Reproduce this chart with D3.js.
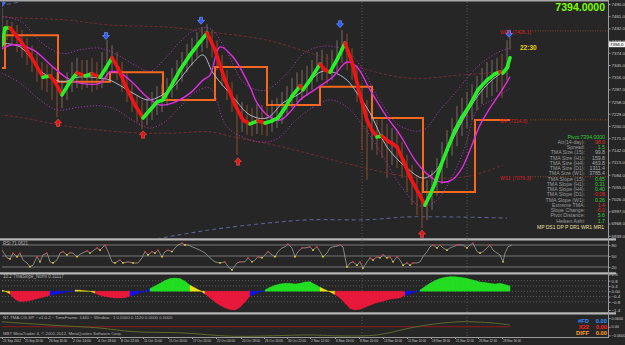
<!DOCTYPE html>
<html>
<head>
<meta charset="utf-8">
<script src="https://cdn.jsdelivr.net/npm/d3@7"></script>
<style>
body { margin: 0; background: #262626; }
svg { display: block; font-family: "Liberation Sans", Arial, sans-serif; }
</style>
</head>
<body>
<svg width="625" height="345"></svg>
<script>
// ---- data (bar = chart position unit) ----
const timeLabels = ["21 Sep 2012", "25 Sep 20:00", "28 Sep 16:00", "2 Oct 14:00", "4 Oct 18:00", "8 Oct 22:00",
  "11 Oct 11:00", "15 Oct 16:00", "17 Oct 20:00", "22 Oct 00:00", "24 Oct 18:00", "26 Oct 16:00", "30 Oct 22:00",
  "2 Nov 12:00", "6 Nov 16:00", "8 Nov 20:00", "13 Nov 10:00", "15 Nov 14:00", "19 Nov 18:00", "21 Nov 22:00",
  "26 Nov 12:00", "28 Nov 16:00"];
const timeTickBars = [2, 24, 48, 72, 97, 120, 143, 168, 192, 216, 241, 264, 287, 310, 335, 359, 383, 407, 431, 455, 478, 502];
const priceTicks = [7490, 7461, 7432, 7403, 7374, 7345, 7316, 7287, 7258, 7229, 7200, 7171, 7142, 7113, 7084, 7055, 7026, 6997, 6968, 6939];
const lastPrice = 7394.0;

// [bar, high, low]
const candles = [
  [2,7480,7381],[7,7452,7404],[12,7447,7392],[17,7440,7376],[22,7428,7362],[27,7409,7345],[32,7392,7328],
  [37,7376,7305],[42,7352,7286],[47,7347,7281],[52,7343,7262],[57,7328,7221],[62,7309,7243],[67,7328,7262],
  [72,7352,7281],[77,7362,7290],[82,7357,7286],[87,7357,7290],[92,7362,7281],[97,7352,7286],[102,7376,7290],
  [107,7404,7314],[112,7392,7328],[117,7376,7309],[122,7352,7281],[127,7328,7257],[132,7300,7233],[137,7274,7210],
  [142,7262,7193],[147,7267,7202],[152,7281,7214],[157,7295,7226],[162,7300,7233],[167,7314,7248],[172,7338,7267],
  [177,7357,7286],[182,7376,7305],[187,7395,7328],[192,7409,7343],[197,7423,7362],[202,7435,7376],[207,7442,7385],
  [212,7428,7362],[217,7404,7333],[222,7369,7295],[227,7333,7262],[232,7305,7233],[237,7274,7131],[242,7257,7186],
  [247,7250,7179],[252,7243,7176],[257,7252,7181],[262,7250,7179],[267,7252,7176],[272,7262,7186],[277,7267,7195],
  [282,7281,7205],[287,7295,7224],[292,7314,7243],[297,7328,7257],[302,7333,7262],[307,7343,7271],[312,7357,7286],
  [317,7376,7305],[322,7381,7309],[327,7371,7300],[332,7381,7309],[337,7404,7328],[342,7428,7352],[347,7419,7333],
  [352,7385,7309],[357,7345,7257],[362,7297,7143],[367,7262,7072],[372,7233,7143],[377,7214,7131],[382,7219,7124],
  [387,7205,7076],[392,7195,7107],[397,7186,7100],[402,7162,7076],[407,7131,7043],[412,7107,7012],[417,7083,6988],
  [422,7067,6957],[427,7071,6976],[432,7095,7000],[437,7124,7034],[442,7162,7062],[447,7190,7100],[452,7219,7129],
  [457,7248,7152],[462,7267,7176],[467,7281,7195],[472,7300,7214],[477,7319,7238],[482,7338,7252],[487,7352,7267],
  [492,7357,7271],[497,7362,7281],[502,7371,7267],[507,7404,7309],[510,7412,7381]
];

const fastTma = [[2,7392],[5,7433],[10,7433],[20,7404],[30,7369],[43,7316],[50,7319],[55,7305],[62,7274],[70,7305],
  [77,7326],[85,7319],[92,7324],[100,7316],[106,7338],[112,7362],[118,7338],[125,7298],[135,7250],[143,7219],[150,7238],
  [157,7257],[163,7262],[170,7290],[180,7333],[190,7369],[200,7400],[207,7421],[215,7381],[225,7309],[235,7250],
  [243,7214],[250,7205],[258,7212],[265,7207],[272,7212],[278,7219],[285,7243],[292,7271],[300,7295],[303,7286],
  [310,7309],[320,7347],[325,7333],[330,7328],[338,7362],[345,7397],[352,7352],[360,7274],[367,7214],[372,7190],
  [377,7174],[382,7176],[388,7164],[393,7157],[397,7150],[403,7119],[410,7079],[418,7043],[425,7012],[430,7036],
  [435,7064],[441,7107],[447,7143],[455,7190],[462,7221],[470,7250],[478,7286],[487,7309],[495,7324],[500,7328],
  [503,7326],[507,7338],[510,7362]];

const midTma = [[0,7397],[20,7388],[43,7326],[63,7305],[77,7316],[100,7314],[110,7309],[133,7278],[147,7262],[157,7267],
  [173,7293],[193,7350],[203,7369],[213,7326],[233,7269],[250,7226],[267,7219],[283,7255],[300,7278],[320,7328],
  [333,7328],[347,7309],[357,7278],[370,7231],[387,7150],[407,7100],[423,7076],[435,7091],[447,7143],[460,7202],
  [477,7269],[490,7305],[500,7324],[510,7343]];

const slowTma = [[0,7381],[13,7393],[33,7381],[53,7340],[67,7314],[80,7302],[100,7302],[110,7328],[120,7326],[133,7302],
  [147,7269],[160,7250],[173,7255],[190,7278],[203,7309],[210,7321],[220,7388],[233,7364],[250,7293],[257,7255],
  [270,7221],[280,7214],[290,7233],[300,7262],[317,7290],[333,7317],[347,7352],[357,7340],[370,7286],[387,7221],
  [400,7179],[415,7119],[428,7084],[440,7067],[452,7072],[462,7100],[470,7143],[480,7202],[490,7243],[500,7278],[510,7317]];

const upperBand = [[0,7460],[20,7450],[43,7395],[63,7372],[80,7381],[100,7385],[115,7372],[135,7345],[150,7330],[165,7360],
  [180,7400],[195,7428],[210,7432],[225,7385],[245,7300],[265,7285],[285,7320],[305,7375],[325,7390],[345,7380],
  [360,7345],[380,7260],[400,7200],[423,7190],[440,7238],[455,7278],[477,7340],[497,7374],[510,7385]];
const lowerBand = [[0,7328],[20,7302],[40,7262],[57,7238],[80,7245],[100,7248],[115,7240],[135,7210],[150,7195],[165,7210],
  [180,7245],[195,7280],[210,7290],[227,7198],[250,7167],[267,7162],[280,7174],[293,7207],[310,7240],[330,7262],
  [347,7245],[360,7210],[380,7140],[400,7060],[420,7010],[435,7020],[450,7070],[465,7150],[477,7238],[495,7265],[510,7290]];

const outerUpper = [[0,7461],[20,7457],[67,7452],[110,7440],[167,7435],[210,7423],[267,7404],[333,7357],[407,7314],[460,7321],[500,7328]];
const outerLower = [[0,7226],[20,7221],[60,7202],[100,7190],[143,7183],[173,7183],[210,7186],[233,7174],[283,7150],
  [333,7119],[387,7088],[410,7079],[440,7076],[470,7081],[503,7107]];
const farUpper = [[0,7486],[20,7495],[35,7502]];
const farLower = [[150,6929],[210,6953],[267,6969],[310,6977],[367,6977],[410,6984],[507,6981]];

// weekly pivot steps [start bar, level]
const weeklyPivot = [[2,7338],[5,7416],[58,7305],[110,7328],[163,7262],[215,7340],[267,7250],[320,7293],[372,7219],[423,7043],[475,7214]];
const weeklyEndBar = 510;

const topArrows = [[2,7492],[106,7414],[201,7450],[340,7442],[509,7419]];
const bottomArrows = [[58,7207],[143,7179],[238,7115],[422,6943]];

const pivotNames = ["WR1", "MP", "WS1"];
const pivotPrices = [7426.1, 7214.6, 7079.3];

const rsi = [[0,75],[3,62],[7,45],[10,42],[13,58],[17,48],[20,58],[23,39],[27,31],[30,21],[33,25],[37,48],[40,34],[43,53],
  [47,58],[50,34],[53,31],[57,39],[60,58],[63,62],[67,53],[70,59],[73,58],[77,48],[80,55],[83,59],[87,64],[90,58],[93,64],
  [97,72],[100,66],[105,80],[108,62],[112,34],[115,31],[120,39],[123,31],[128,34],[133,31],[138,31],[142,45],[145,62],
  [148,53],[152,62],[155,58],[158,66],[162,48],[165,62],[168,66],[172,62],[175,72],[178,80],[182,85],[185,80],[188,80],
  [192,75],[195,72],[200,66],[205,58],[210,45],[215,34],[220,31],[225,34],[228,21],[232,12],[237,31],[240,34],[245,34],
  [248,45],[252,34],[255,39],[258,48],[262,45],[265,53],[268,62],[272,53],[275,48],[278,62],[282,72],[285,75],[288,83],
  [292,72],[295,48],[298,62],[302,72],[305,72],[310,75],[313,66],[317,75],[320,62],[323,48],[327,58],[330,72],[333,75],
  [337,77],[340,80],[343,75],[347,20],[350,31],[353,34],[357,25],[360,34],[363,17],[367,34],[370,45],[373,39],[377,48],
  [380,45],[383,53],[387,45],[390,48],[393,34],[397,48],[400,39],[403,25],[407,31],[410,25],[413,31],[417,31],[420,34],
  [423,48],[427,62],[430,75],[433,80],[437,72],[440,80],[443,72],[447,66],[450,72],[453,75],[457,80],[460,80],[463,80],
  [467,72],[470,80],[473,85],[477,62],[480,58],[483,62],[487,72],[490,80],[493,66],[497,58],[500,53],[503,34],[505,58],
  [508,75],[512,80]];
const rsiLevels = [80, 50, 20];

const tmaSlope = [[0,0.15],[5,0.0],[10,-0.2],[15,-0.6],[20,-0.78],[25,-0.75],[30,-0.7],[35,-0.6],[40,-0.5],[45,-0.42],
  [50,-0.3],[55,-0.22],[60,-0.15],[65,-0.08],[70,0.0],[75,0.1],[80,0.08],[85,0.03],[90,0.0],[95,-0.15],[100,-0.3],
  [105,-0.4],[110,-0.45],[115,-0.5],[120,-0.5],[125,-0.48],[130,-0.35],[135,-0.25],[140,-0.12],[145,0.0],[150,0.2],
  [155,0.4],[160,0.6],[165,0.8],[170,0.95],[175,1.0],[180,0.95],[185,0.75],[190,0.45],[195,0.25],[200,0.05],[205,-0.2],
  [210,-0.5],[215,-0.8],[220,-1.05],[225,-1.25],[230,-1.38],[235,-1.41],[240,-1.2],[245,-0.8],[250,-0.35],[255,-0.2],
  [260,-0.05],[265,0.1],[270,0.3],[275,0.45],[280,0.55],[285,0.6],[290,0.6],[295,0.55],[300,0.6],[305,0.7],[310,0.72],
  [315,0.5],[320,0.3],[325,0.12],[330,-0.05],[335,-0.25],[340,-0.5],[345,-0.9],[350,-1.3],[355,-1.41],[360,-1.35],
  [365,-1.2],[370,-1.05],[375,-0.9],[380,-0.8],[385,-0.7],[390,-0.6],[395,-0.55],[400,-0.5],[405,-0.3],[410,-0.2],
  [415,-0.05],[420,0.1],[425,0.35],[430,0.6],[435,0.8],[440,0.95],[445,1.05],[450,1.1],[455,1.1],[460,1.05],[465,1.0],
  [470,0.9],[475,0.8],[480,0.7],[485,0.65],[490,0.6],[495,0.55],[500,0.6],[505,0.5],[510,0.4]];
const slopeTicks = [0.8, 0.4, 0, -0.4, -0.8];

const cgLine = [[0,0.035],[50,0.012],[100,-0.009],[133,-0.034],[183,-0.043],[233,-0.066],[310,-0.057],[343,-0.064],
  [377,-0.057],[410,-0.009],[427,0.012],[460,0.035],[493,0.026],[510,0.012]];
const cgSignal = [[2,0],[510,0]];

const infoLabels = ["Atr(14-day):", "Spread:", "TMA Size (15):", "TMA Size (H1):", "TMA Size (H4):", "TMA Size (D1):",
  "TMA Size (W1):", "TMA Slope (15):", "TMA Slope (H1):", "TMA Slope (H4):", "TMA Slope (D1):", "TMA Slope (W1):",
  "Extreme TMA:", "Slope Change:", "Pivot Distance:", "Heiken Ashi:"];
const infoValues = ["98.0", "1.5", "99.8", "159.8", "463.8", "1311.4", "3785.4", "0.65", "0.31", "0.40", "-0.08", "0.26",
  "1.4", "-6.0", "5.6", "1.7"];
const infoState = ["bad", "good", "info", "info", "info", "info", "info", "good", "good", "good", "bad", "good",
  "bad", "bad", "good", "good"];
const legendNames = ["#FD", "X22", "DIFF"];
const legendValues = ["0.00", "0.00", "0.00"];

// ---- drawing ----
const svg = d3.select("svg");
const attr_area = { width: 625, height: 345, left: 2, right: 608 };
const panes = {
  main: { top: 1.5, bottom: 238 },
  rsi: { top: 241, bottom: 272 },
  slope: { top: 275, bottom: 312 },
  cg: { top: 315, bottom: 337 }
};

const bx = d3.scaleLinear().domain([0, 610]).range([0, 610]);
const py = d3.scaleLinear().domain([6937, 7490]).range([236.6, 4]);
const ry = d3.scaleLinear().domain([20, 80]).range([267, 245]);
const sy = d3.scaleLinear().domain([-1.41, 1.26]).range([310, 274.5]);
const cy = d3.scaleLinear().domain([-0.0677, 0.0677]).range([336.5, 317]);

svg.append("rect").attr("width", attr_area.width).attr("height", attr_area.height).attr("fill", "#262626");

const defs = svg.append("defs");
for (const [name, p] of Object.entries(panes)) {
  defs.append("clipPath").attr("id", "clip-" + name)
    .append("rect").attr("x", attr_area.left).attr("y", p.top)
    .attr("width", attr_area.right - attr_area.left).attr("height", p.bottom - p.top);
}

// separators & frame
svg.append("rect").attr("x", 0).attr("y", 0).attr("width", attr_area.right).attr("height", 1.5).attr("fill", "#a8a8a8");
[238.3, 272.3, 312.3].forEach(y => {
  svg.append("rect").attr("x", 0).attr("y", y).attr("width", attr_area.right + 8).attr("height", 2.2).attr("fill", "#b8b8b8");
});
svg.append("line").attr("x1", attr_area.right + 0.5).attr("x2", attr_area.right + 0.5).attr("y1", 0).attr("y2", 338)
  .attr("stroke", "#9a9a9a");
svg.append("line").attr("x1", 0).attr("x2", attr_area.right).attr("y1", 337.5).attr("y2", 337.5).attr("stroke", "#9a9a9a");

// vertical period separators
[362, 467].forEach(b => {
  svg.append("line").attr("x1", bx(b)).attr("x2", bx(b)).attr("y1", 2).attr("y2", 337)
    .attr("stroke", "#6a6a6a").attr("stroke-width", 0.7).attr("stroke-dasharray", "1,2");
});

function drawMain() {
  const g = svg.append("g").attr("clip-path", "url(#clip-main)");
  const smooth = d3.line().x(d => bx(d[0])).y(d => py(d[1])).curve(d3.curveCatmullRom);

  g.append("path").attr("d", smooth(outerUpper)).attr("fill", "none")
    .attr("stroke", "#7a2e2e").attr("stroke-width", 0.9).attr("stroke-dasharray", "3,2");
  g.append("path").attr("d", smooth(outerLower)).attr("fill", "none")
    .attr("stroke", "#7a2e2e").attr("stroke-width", 0.9).attr("stroke-dasharray", "3,2");
  g.append("path").attr("d", smooth(farUpper)).attr("fill", "none")
    .attr("stroke", "#56648f").attr("stroke-width", 1).attr("stroke-dasharray", "4,3");
  g.append("path").attr("d", smooth(farLower)).attr("fill", "none")
    .attr("stroke", "#56648f").attr("stroke-width", 1.1).attr("stroke-dasharray", "4,3");

  // price bars
  g.selectAll(".bar").data(candles).enter().append("line")
    .attr("x1", d => bx(d[0])).attr("x2", d => bx(d[0]))
    .attr("y1", d => py(d[1])).attr("y2", d => py(d[2]))
    .attr("stroke", (d, i) => {
      const prev = candles[Math.max(0, i - 1)];
      return (d[1] + d[2]) >= (prev[1] + prev[2]) ? "#6a5a52" : "#74462e";
    })
    .attr("stroke-width", 1.3);

  // weekly pivot steps
  const steps = weeklyPivot.concat([[weeklyEndBar, weeklyPivot[weeklyPivot.length - 1][1]]]);
  g.append("path")
    .attr("d", d3.line().x(d => bx(d[0])).y(d => py(d[1])).curve(d3.curveStepAfter)(steps))
    .attr("fill", "none").attr("stroke", "#f5691e").attr("stroke-width", 2);

  // bands
  g.append("path").attr("d", smooth(upperBand)).attr("fill", "none")
    .attr("stroke", "#c03cc8").attr("stroke-width", 0.9).attr("stroke-dasharray", "1,2");
  g.append("path").attr("d", smooth(lowerBand)).attr("fill", "none")
    .attr("stroke", "#c03cc8").attr("stroke-width", 0.9).attr("stroke-dasharray", "1,2");

  g.append("path").attr("d", smooth(midTma)).attr("fill", "none")
    .attr("stroke", "#aeb6c0").attr("stroke-width", 1);
  g.append("path").attr("d", smooth(slowTma)).attr("fill", "none")
    .attr("stroke", "#e02ce0").attr("stroke-width", 1.4);

  // fast TMA, green when rising and red when falling
  const segs = d3.pairs(fastTma);
  g.selectAll(".seg").data(segs).enter().append("line")
    .attr("x1", d => bx(d[0][0])).attr("y1", d => py(d[0][1]))
    .attr("x2", d => bx(d[1][0])).attr("y2", d => py(d[1][1]))
    .attr("stroke", d => d[1][1] >= d[0][1] ? "#25f025" : "#f01414")
    .attr("stroke-width", 3.6).attr("stroke-linecap", "round");

  // swing arrows
  g.selectAll(".top").data(topArrows).enter().append("path")
    .attr("transform", d => `translate(${bx(d[0])},${py(d[1])})`)
    .attr("d", "M-1.5,-3.5 h3 v3 h2 l-3.5,4 l-3.5,-4 h2 z")
    .attr("fill", "#2f5cff").attr("stroke", "#8fb0ff").attr("stroke-width", 0.5);
  g.selectAll(".bot").data(bottomArrows).enter().append("path")
    .attr("transform", d => `translate(${bx(d[0])},${py(d[1])})`)
    .attr("d", "M0,-4 l3.5,4 h-2 v3.5 h-3 v-3.5 h-2 z")
    .attr("fill", "#e01818").attr("stroke", "#ff6060").attr("stroke-width", 0.5);

  // pivot levels
  pivotPrices.forEach((p, i) => {
    g.append("line").attr("x1", 530).attr("x2", attr_area.right).attr("y1", py(p)).attr("y2", py(p))
      .attr("stroke", "#a0522d").attr("stroke-width", 0.8).attr("stroke-dasharray", "1,1.5");
    g.append("text").attr("x", 500).attr("y", py(p) + 3).attr("font-size", 5).attr("fill", "#d82020")
      .text(`${pivotNames[i]} (${p.toFixed(1)})`);
  });

  svg.append("text").attr("x", 520).attr("y", 49.5).attr("font-size", 6.5).attr("font-weight", "bold")
    .attr("fill", "#f0d000").text("22:30");
  svg.append("text").attr("x", 605).attr("y", 11).attr("text-anchor", "end").attr("font-size", 10.5)
    .attr("font-weight", "bold").attr("fill", "#7cfc00").text(lastPrice.toFixed(4));

  // info panel
  svg.append("text").attr("x", 605).attr("y", 138.5).attr("text-anchor", "end").attr("font-size", 5.2)
    .attr("fill", "#32cd32").text("Pivot:" + lastPrice.toFixed(4));
  const stateColor = { good: "#32cd32", bad: "#e02828", info: "#a8a8a8" };
  infoLabels.forEach((t, i) => {
    const y = 143.8 + i * 5.25;
    svg.append("text").attr("x", 585).attr("y", y).attr("text-anchor", "end").attr("font-size", 5.2)
      .attr("fill", "#9a9a9a").text(t);
    svg.append("text").attr("x", 605).attr("y", y).attr("text-anchor", "end").attr("font-size", 5.2)
      .attr("fill", stateColor[infoState[i]]).text(infoValues[i]);
  });
  svg.append("text").attr("x", 537).attr("y", 229).attr("font-size", 5.4)
    .attr("textLength", 67).attr("lengthAdjust", "spacingAndGlyphs")
    .attr("fill", "#e8e0a0").text("MP DS1 DP P DR1 WR1 MR1");
}

function drawRsi() {
  const g = svg.append("g").attr("clip-path", "url(#clip-rsi)");
  rsiLevels.forEach(v => {
    g.append("line").attr("x1", attr_area.left).attr("x2", attr_area.right).attr("y1", ry(v)).attr("y2", ry(v))
      .attr("stroke", "#8a8a8a").attr("stroke-width", 0.8);
  });
  g.append("path").attr("d", d3.line().x(d => bx(d[0])).y(d => ry(d[1]))(rsi))
    .attr("fill", "none").attr("stroke", "#a09a94").attr("stroke-width", 0.8);
  const peaks = rsi.filter((d, i) => i > 0 && i < rsi.length - 1 && d[1] > rsi[i - 1][1] && d[1] >= rsi[i + 1][1]);
  const troughs = rsi.filter((d, i) => i > 0 && i < rsi.length - 1 && d[1] < rsi[i - 1][1] && d[1] <= rsi[i + 1][1]);
  g.selectAll(".pk").data(peaks).enter().append("circle")
    .attr("cx", d => bx(d[0])).attr("cy", d => ry(d[1])).attr("r", 0.9).attr("fill", "#e03030");
  g.selectAll(".tr").data(troughs).enter().append("circle")
    .attr("cx", d => bx(d[0])).attr("cy", d => ry(d[1])).attr("r", 0.9).attr("fill", "#f0d020");
  svg.append("text").attr("x", 3).attr("y", 245).attr("font-size", 4.5).attr("fill", "#b0b0b0").text("RSI 71.0621");
}

function drawSlope() {
  const g = svg.append("g").attr("clip-path", "url(#clip-slope)");
  slopeTicks.forEach(v => {
    g.append("line").attr("x1", attr_area.left).attr("x2", attr_area.right).attr("y1", sy(v)).attr("y2", sy(v))
      .attr("stroke", "#707070").attr("stroke-width", 0.7).attr("stroke-dasharray", "1,2");
  });
  const colorOf = (v, prev) => {
    if (v >= 0.3) return "#22dd22";
    if (v <= -0.3) return "#e8183a";
    return v >= prev ? "#1010e8" : "#f0e010";
  };
  const segs = d3.pairs(tmaSlope);
  g.selectAll(".area").data(segs).enter().append("path")
    .attr("d", d => {
      const x0 = bx(d[0][0]), x1 = bx(d[1][0]);
      return `M${x0},${sy(0)}L${x0},${sy(d[0][1])}L${x1},${sy(d[1][1])}L${x1},${sy(0)}Z`;
    })
    .attr("fill", d => colorOf(d[1][1], d[0][1]))
    .attr("stroke", d => colorOf(d[1][1], d[0][1])).attr("stroke-width", 0.4);
  svg.append("text").attr("x", 3).attr("y", 278).attr("font-size", 4.5).attr("fill", "#b0b0b0")
    .text("10.2 TmaSlope_Norm 0.31117");
}

function drawCg() {
  const g = svg.append("g").attr("clip-path", "url(#clip-cg)");
  const ln = d3.line().x(d => bx(d[0])).y(d => cy(d[1]));
  g.append("path").attr("d", ln(cgSignal)).attr("fill", "none").attr("stroke", "#8a1c1c").attr("stroke-width", 1);
  g.append("path").attr("d", ln.curve(d3.curveCatmullRom)(cgLine)).attr("fill", "none")
    .attr("stroke", "#5e6a2c").attr("stroke-width", 1);
  svg.append("text").attr("x", 3).attr("y", 319).attr("font-size", 4.3).attr("fill", "#b0b0b0")
    .text("NT-TMA-CG-SP ~ v1.0.2 ~ TimeFrame: 1440 ~ Window : 1    0.0000 0.1120 0.0000 0.0000");
  svg.append("text").attr("x", 3).attr("y", 335).attr("font-size", 4.3).attr("fill", "#b0b0b0")
    .text("MBT MetaTrader 4, \u00a9 2001-2012, MetaQuotes Software Corp.");
  const legendColors = ["#2f8fff", "#ff2020", "#ffa020"];
  legendNames.forEach((n, i) => {
    const y = 322.5 + i * 6.4;
    svg.append("text").attr("x", 589).attr("y", y).attr("text-anchor", "end").attr("font-size", 5.8)
      .attr("font-weight", "bold").attr("fill", legendColors[i]).text(n);
    svg.append("text").attr("x", 607).attr("y", y).attr("text-anchor", "end").attr("font-size", 5.8)
      .attr("font-weight", "bold").attr("fill", legendColors[i]).text(legendValues[i]);
  });
}

function styleRightAxis(ga) {
  ga.select(".domain").remove();
  ga.selectAll("line").attr("stroke", "#9a9a9a");
  ga.selectAll("text").attr("font-size", 4.4).attr("fill", "#c8c8c8").attr("x", 3);
}

function drawAxes() {
  const axisY = d3.axisRight(py).tickValues(priceTicks).tickFormat(d3.format(".1f")).tickSize(2);
  styleRightAxis(svg.append("g").attr("transform", `translate(${attr_area.right + 0.5},0)`).call(axisY));

  // last price marker
  svg.append("rect").attr("x", attr_area.right + 1).attr("y", py(lastPrice) - 2.8).attr("width", 16).attr("height", 5.6)
    .attr("fill", "#f0f0f0");
  svg.append("text").attr("x", attr_area.right + 2).attr("y", py(lastPrice) + 1.8).attr("font-size", 4.4)
    .attr("fill", "#000").text(lastPrice.toFixed(1));

  const subAxis = (scale, values, fmt) => {
    const a = d3.axisRight(scale).tickValues(values).tickFormat(fmt).tickSize(2);
    styleRightAxis(svg.append("g").attr("transform", `translate(${attr_area.right + 0.5},0)`).call(a));
  };
  subAxis(ry, rsiLevels, d3.format("d"));
  subAxis(sy, [1.26].concat(slopeTicks, [-1.41]), d => d === 0 ? "0.00" : d3.format(".1f")(d));
  const cgAxis = svg.append("g").attr("transform", `translate(${attr_area.right + 0.5},0)`)
    .call(d3.axisRight(cy).tickValues([0.06, 0, -0.06]).tickFormat(d => d === 0 ? "0.00" : d3.format(".4f")(d)).tickSize(2));
  styleRightAxis(cgAxis);
  cgAxis.selectAll("text").attr("font-size", 3.8);

  const axisX = d3.axisBottom(bx).tickValues(timeTickBars).tickFormat((d, i) => timeLabels[i]).tickSize(1.5);
  const gx = svg.append("g").attr("transform", "translate(0,337.5)").call(axisX);
  gx.select(".domain").remove();
  gx.selectAll("line").attr("stroke", "#9a9a9a");
  gx.selectAll("text").attr("font-size", 3.9).attr("fill", "#c8c8c8").style("text-anchor", "start")
    .attr("textLength", 18).attr("lengthAdjust", "spacingAndGlyphs")
    .attr("x", 0.5).attr("y", 1.8).attr("dy", "0.71em");
}

drawMain();
drawRsi();
drawSlope();
drawCg();
drawAxes();
</script>
</body>
</html>
